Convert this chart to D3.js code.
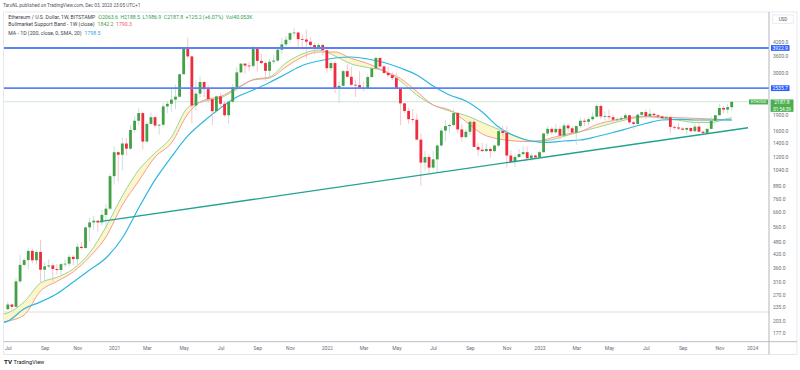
<!doctype html>
<html lang="en">
<head>
<meta charset="UTF-8">
<title>ETHUSD 1W</title>
<style>
  body { margin: 0; background: #fff; }
  svg text { font-family: Roboto, "Noto Sans", sans-serif; }
</style>
</head>
<body>
<div class="container"></div>

<script src="https://d3js.org/d3.v7.min.js"></script>

<script>
  const SVG_WIDTH = 800;
  const SVG_HEIGHT = 370;
  const PANE_LEFT = 3.5;
  const PANE_RIGHT = 769;
  const PANE_TOP = 12;
  const PANE_BOTTOM = 341.7;

  // weekly bars, first one opens Monday 2020-07-06; row = [open, high, low, close]
  const firstWeek = '2020-07-06';
  const candles2020 = [
    [230,249,228,242],[242,245,229,236],[236,322,234,311],[311,415,305,372],[372,400,365,392],
    [392,445,355,433],[433,443,378,391],[391,435,373,428],[428,488,308,353],[353,382,310,366],
    [366,395,360,370],[370,380,310,356],[356,375,335,352],[352,380,335,375],[375,395,362,377],
    [377,418,365,406],[406,415,370,396],[396,470,374,453],[453,477,440,447],[447,565,443,559],
    [559,622,480,590],[590,636,545,601],[601,603,535,590],[590,675,570,640],[640,720,550,685],
    [685,1000,675,975]
  ];
  const candles2021 = [
    [975,1350,890,1265],[1265,1280,920,1230],[1230,1480,1040,1390],[1390,1475,1220,1315],
    [1315,1700,1300,1610],[1610,1870,1560,1780],[1780,2040,1700,1935],[1935,1950,1300,1420],
    [1420,1760,1410,1720],[1720,1950,1700,1850],[1850,1880,1650,1690],[1690,1720,1530,1705],
    [1705,2150,1680,2080],[2080,2200,1930,2140],[2140,2550,1960,2240],[2240,2640,2020,2310],
    [2310,2970,2290,2950],[2950,3980,2940,3920],[3920,4380,3470,3580],[3580,3600,1730,2100],
    [2100,2760,2000,2390],[2390,2890,2290,2710],[2710,2740,2300,2510],[2510,2620,2170,2250],
    [2250,2280,1700,1975],[1975,2340,1960,2320],[2320,2410,2040,2140],[2140,2200,1860,1890],
    [1890,2200,1720,2190],[2190,2650,2150,2560],[2560,3180,2450,3010],[3010,3330,2990,3310],
    [3310,3330,2970,3240],[3240,3380,3050,3230],[3230,4020,3150,3940],[3940,3970,3030,3410],
    [3410,3680,3280,3330],[3330,3400,2740,3060],[3060,3480,2820,3380],[3380,3640,3290,3420],
    [3420,3880,3380,3850],[3850,4380,3700,4080],[4080,4460,3900,4290],[4290,4660,4150,4610],
    [4610,4870,4470,4640],[4640,4660,3980,4320],[4320,4550,3900,4300],[4300,4780,3500,4200],
    [4200,4400,3900,4050],[4050,4160,3650,3920],[3920,4140,3890,4050],[4050,4120,3620,3830]
  ];
  const candles2022 = [
    [3830,3840,3000,3150],[3150,3410,3050,3330],[3330,3410,2400,2540],[2540,2730,2160,2600],
    [2600,3100,2580,3050],[3050,3280,2850,2870],[2870,3200,2600,2630],[2630,2780,2300,2620],
    [2620,3050,2510,2550],[2550,2720,2450,2520],[2520,2950,2500,2860],[2860,3150,2850,3140],
    [3140,3580,3120,3520],[3520,3550,3180,3210],[3210,3250,2950,2990],[2990,3190,2860,2920],
    [2920,3030,2770,2830],[2830,3000,2510,2520],[2520,2550,1700,2150],[2150,2160,1940,1980],
    [1980,2050,1720,1810],[1810,2020,1740,1800],[1800,1920,1440,1450],[1450,1550,880,1130],
    [1130,1280,1040,1200],[1200,1230,1000,1070],[1070,1280,1050,1170],[1170,1380,1010,1360],
    [1360,1640,1350,1600],[1600,1790,1420,1680],[1680,1720,1550,1700],[1700,2030,1680,1935],
    [1935,1960,1550,1620],[1620,1720,1420,1490],[1490,1620,1470,1580],[1580,1790,1520,1760],
    [1760,1790,1330,1340],[1340,1400,1220,1300],[1300,1400,1270,1280],[1280,1390,1270,1310],
    [1310,1340,1190,1280],[1280,1370,1260,1360],[1360,1660,1340,1590],[1590,1680,1500,1560],
    [1560,1680,1070,1220],[1220,1290,1130,1140],[1140,1240,1080,1200],[1200,1310,1190,1240],
    [1240,1350,1220,1265],[1265,1350,1160,1185],[1185,1250,1150,1220],[1220,1230,1190,1195]
  ];
  const candles2023 = [
    [1195,1290,1190,1265],[1265,1560,1260,1550],[1550,1680,1510,1630],[1630,1660,1530,1570],
    [1570,1720,1550,1630],[1630,1680,1450,1515],[1515,1740,1500,1690],[1690,1720,1580,1640],
    [1640,1680,1550,1565],[1565,1690,1370,1680],[1680,1840,1650,1780],[1780,1830,1680,1760],
    [1760,1850,1690,1810],[1810,1950,1780,1860],[1860,2140,1850,2090],[2090,2120,1810,1865],
    [1865,1970,1780,1870],[1870,2010,1800,1850],[1850,1900,1740,1800],[1800,1850,1780,1805],
    [1805,1870,1770,1830],[1830,1940,1810,1890],[1890,1900,1720,1750],[1750,1780,1620,1720],
    [1720,1930,1710,1900],[1900,1960,1820,1955],[1955,2010,1820,1870],[1870,2030,1850,1920],
    [1920,1940,1850,1890],[1890,1900,1820,1865],[1865,1880,1800,1830],[1830,1860,1820,1850],
    [1850,1870,1550,1665],[1665,1690,1610,1655],[1655,1740,1610,1635],[1635,1660,1600,1615],
    [1615,1660,1530,1645],[1645,1660,1570,1590],[1590,1730,1570,1670],[1670,1750,1570,1580],
    [1580,1600,1520,1560],[1560,1640,1540,1630],[1630,1860,1620,1780],[1780,1900,1770,1890],
    [1890,2130,1880,2045],[2045,2090,1930,2010],[2010,2140,1930,2063.6],[2063.6,2188.5,1986.9,2187.8]
  ];

  // indicator values read every 4 weeks (week index from firstWeek)
  const maWeeks = [-1,0,4,8,12,16,20,24,28,32,36,40,44,48,52,56,60,64,68,72,76,80,84,88,92,96,100,
    104,108,112,116,120,124,128,132,136,140,144,148,152,156,160,164,168,172,176,177];
  const sma20w = [218,221,249,306,325,356,424,562,787,1043,1254,1492,2051,2199,2279,2513,2786,2863,
    3333,3675,3838,3596,3297,3174,3056,2741,2355,2112,1979,1885,1747,1619,1509,1429,1437,1504,1581,
    1654,1737,1814,1858,1834,1789,1747,1747,1824,1842.2];
  const ema21w = [200,202,216,280,311,345,406,504,713,925,1201,1398,1916,2230,2317,2541,2771,2832,
    3191,3557,3756,3756,3500,3315,3056,2817,2446,2112,2001,1766,1542,1460,1429,1418,1460,1533,1581,
    1709,1785,1844,1870,1854,1840,1828,1814,1795,1790.3];
  const sma200d = [199,202,231,249,272,309,352,401,498,690,936,1201,1509,1775,2045,2304,2486,2697,
    2958,3244,3406,3519,3557,3481,3351,3157,2926,2596,2355,2206,1958,1663,1509,1429,1406,1429,1444,
    1500,1567,1646,1728,1795,1805,1795,1795,1797,1798.5];

  const priceTicks = [4200,3600,3000,1900,1600,1400,1200,1040,880,760,660,560,480,420,360,310,270,235,203,177];
  const levels = [3922.9, 2535.7];
  const lowRay = 223;
  const trendDates = ['2020-12-10', '2023-12-25'];
  const trendPrices = [595, 1650];

  const parseDay = d3.utcParse('%Y-%m-%d');
  const start = parseDay(firstWeek);
  const ohlc = [...candles2020, ...candles2021, ...candles2022, ...candles2023];
  const bars = ohlc.map((r, i) => ({
    date: d3.utcMonday.offset(start, i), o: r[0], h: r[1], l: r[2], c: r[3]
  }));
  const last = bars[bars.length - 1];

  const svg = d3.select('.container')
    .append('svg')
    .attr('width', SVG_WIDTH)
    .attr('height', SVG_HEIGHT);

  const x = d3.scaleUtc()
    .domain([parseDay('2020-07-20'), parseDay('2023-11-27')])
    .range([16, 731.7]);
  const y = d3.scaleLog()
    .domain([177, 4200])
    .range([333.3, 41.7]);

  const UP = '#43a047', DOWN = '#ef2b40';
  const UP_WICK = '#b9d9d2', DOWN_WICK = '#f6b8be';

  svg.append('clipPath').attr('id', 'pane')
    .append('rect')
    .attr('x', PANE_LEFT).attr('y', PANE_TOP)
    .attr('width', PANE_RIGHT - PANE_LEFT).attr('height', PANE_BOTTOM - PANE_TOP);

  const pane = svg.append('g').attr('clip-path', 'url(#pane)');

  // faint support ray and current price line
  pane.append('line')
    .attr('x1', PANE_LEFT).attr('x2', PANE_RIGHT)
    .attr('y1', y(lowRay)).attr('y2', y(lowRay))
    .attr('stroke', '#dcdde2').attr('stroke-width', 1);
  pane.append('line')
    .attr('x1', PANE_LEFT).attr('x2', PANE_RIGHT)
    .attr('y1', y(last.c)).attr('y2', y(last.c))
    .attr('stroke', '#cfe9cf').attr('stroke-width', 1);

  // bull market support band + 200D MA
  const ma = maWeeks.map((w, i) => ({
    date: d3.utcMonday.offset(start, w), sma: sma20w[i], ema: ema21w[i], ma200: sma200d[i]
  }));

  pane.append('path')
    .datum(ma)
    .attr('fill', '#fbf3b8')
    .attr('fill-opacity', 0.75)
    .attr('d', d3.area()
      .x(d => x(d.date))
      .y0(d => y(d.ema))
      .y1(d => y(d.sma))
      .curve(d3.curveMonotoneX));

  const maLine = key => d3.line()
    .x(d => x(d.date))
    .y(d => y(d[key]))
    .curve(d3.curveMonotoneX);

  pane.append('path').datum(ma)
    .attr('fill', 'none').attr('stroke', '#9bd39a').attr('stroke-width', 1)
    .attr('d', maLine('sma'));
  pane.append('path').datum(ma)
    .attr('fill', 'none').attr('stroke', '#f59a95').attr('stroke-width', 1)
    .attr('d', maLine('ema'));
  pane.append('path').datum(ma)
    .attr('fill', 'none').attr('stroke', '#2cb8e3').attr('stroke-width', 1.2)
    .attr('d', maLine('ma200'));

  // candles
  const candle = pane.selectAll('g.bar')
    .data(bars)
    .enter().append('g')
    .attr('class', 'bar');

  candle.append('line')
    .attr('x1', d => x(d.date)).attr('x2', d => x(d.date))
    .attr('y1', d => y(d.h)).attr('y2', d => y(d.l))
    .attr('stroke', d => d.c >= d.o ? UP_WICK : DOWN_WICK)
    .attr('stroke-width', 0.8);

  candle.append('rect')
    .attr('x', d => x(d.date) - 1.4)
    .attr('width', 2.8)
    .attr('y', d => y(Math.max(d.o, d.c)))
    .attr('height', d => Math.max(0.8, y(Math.min(d.o, d.c)) - y(Math.max(d.o, d.c))))
    .attr('fill', d => d.c >= d.o ? UP : DOWN);

  // drawings: horizontal levels and rising trendline
  pane.selectAll('line.level')
    .data(levels)
    .enter().append('line')
    .attr('class', 'level')
    .attr('x1', PANE_LEFT).attr('x2', PANE_RIGHT)
    .attr('y1', d => y(d)).attr('y2', d => y(d))
    .attr('stroke', '#5b83f6').attr('stroke-width', 1.8);

  pane.append('path')
    .datum(trendDates.map((d, i) => [parseDay(d), trendPrices[i]]))
    .attr('fill', 'none')
    .attr('stroke', '#22a38f')
    .attr('stroke-width', 1.3)
    .attr('d', d3.line().x(d => x(d[0])).y(d => y(d[1])));

  // frame
  const frame = svg.append('g').attr('fill', 'none');
  frame.append('rect')
    .attr('x', PANE_LEFT).attr('y', PANE_TOP)
    .attr('width', 797 - PANE_LEFT).attr('height', 354.5 - PANE_TOP)
    .attr('stroke', '#e0e3eb').attr('stroke-width', 0.8);
  frame.append('line')
    .attr('x1', PANE_LEFT).attr('x2', 797)
    .attr('y1', PANE_BOTTOM).attr('y2', PANE_BOTTOM)
    .attr('stroke', '#b2b5be').attr('stroke-width', 0.9);
  frame.append('line')
    .attr('x1', PANE_RIGHT).attr('x2', PANE_RIGHT)
    .attr('y1', PANE_TOP).attr('y2', 354.5)
    .attr('stroke', '#b2b5be').attr('stroke-width', 1);

  // price axis
  const yAxis = d3.axisRight(y)
    .tickValues(priceTicks)
    .tickFormat(d3.format('.1f'))
    .tickSize(0)
    .tickPadding(4);
  const yAxisGroup = svg.append('g')
    .attr('transform', `translate(${PANE_RIGHT}, 0)`)
    .call(yAxis);
  yAxisGroup.select('.domain').remove();
  yAxisGroup.selectAll('text')
    .attr('font-size', 5)
    .attr('fill', '#6a6d78')
    .style('font-family', 'Roboto, sans-serif');

  // time axis: labels sit on the first weekly bar of every second month
  const monthTicks = d3.utcMonth.every(2)
    .range(parseDay('2020-07-01'), parseDay('2024-02-01'))
    .map(m => d3.utcMonday.ceil(m));
  const xAxis = d3.axisBottom(x)
    .tickValues(monthTicks)
    .tickSize(0)
    .tickPadding(4.5)
    .tickFormat(d => d.getUTCDate() <= 7 && d.getUTCMonth() === 0
      ? d3.utcFormat('%Y')(d) : d3.utcFormat('%b')(d));
  const xAxisGroup = svg.append('g')
    .attr('transform', `translate(0, ${PANE_BOTTOM})`)
    .call(xAxis);
  xAxisGroup.select('.domain').remove();
  xAxisGroup.selectAll('text')
    .attr('font-size', 5)
    .attr('fill', '#6a6d78')
    .style('font-family', 'Roboto, sans-serif');

  // price tags on the axis
  const tags = svg.append('g').attr('font-size', 5).attr('text-anchor', 'middle');
  levels.forEach(v => {
    tags.append('rect')
      .attr('x', 771).attr('y', y(v) - 2.9)
      .attr('width', 18.5).attr('height', 5.8)
      .attr('fill', '#2962ff');
    tags.append('text')
      .attr('x', 780.2).attr('y', y(v) + 1.8)
      .attr('fill', '#fff')
      .text(d3.format('.1f')(v));
  });
  tags.append('rect')
    .attr('x', 770.5).attr('y', y(last.c) - 2.3)
    .attr('width', 23).attr('height', 12.4)
    .attr('fill', '#4caf50');
  tags.append('text')
    .attr('x', 782).attr('y', y(last.c) + 1.8)
    .attr('fill', '#fff')
    .text(d3.format('.1f')(last.c));
  tags.append('text')
    .attr('x', 782).attr('y', y(last.c) + 9.3)
    .attr('fill', '#fff')
    .attr('font-size', 4.6)
    .text('01:54:39');
  tags.append('rect')
    .attr('x', 749).attr('y', y(last.c) - 2.3)
    .attr('width', 19).attr('height', 5)
    .attr('fill', '#4caf50');
  tags.append('text')
    .attr('x', 758.5).attr('y', y(last.c) + 1.4)
    .attr('fill', '#fff')
    .attr('font-size', 4)
    .text('ETHUSD');

  tags.append('rect')
    .attr('x', 772.7).attr('y', 15)
    .attr('width', 20.6).attr('height', 8.3)
    .attr('fill', '#fff')
    .attr('stroke', '#e0e3eb').attr('stroke-width', 0.7);
  tags.append('text')
    .attr('x', 783).attr('y', 20.8)
    .attr('fill', '#50535e')
    .attr('font-size', 4.6)
    .text('USD');

  // header and legend; values follow their titles
  const fmt = d3.format('.1f');
  svg.append('text')
    .attr('x', 3).attr('y', 7.4)
    .attr('font-size', 4.7)
    .attr('fill', '#50535e')
    .text('TaroNL published on TradingView.com, Dec 03, 2023 23:05 UTC+1');

  const legend = svg.append('g').attr('font-size', 5.2);
  function legendRow(yPos, title, values) {
    const t = legend.append('text')
      .attr('x', 8.3).attr('y', yPos)
      .attr('fill', '#3c3f4a')
      .text(title);
    let cx = 8.3 + t.node().getComputedTextLength() + 3;
    values.forEach(([txt, color]) => {
      const v = legend.append('text')
        .attr('x', cx).attr('y', yPos)
        .attr('fill', color)
        .text(txt);
      cx += v.node().getComputedTextLength() + 2.5;
    });
  }
  legendRow(18.8, 'Ethereum / U.S. Dollar, 1W, BITSTAMP', [
    [`O${fmt(last.o)}`, '#2e9e4f'], [`H${fmt(last.h)}`, '#2e9e4f'], [`L${fmt(last.l)}`, '#2e9e4f'],
    [`C${fmt(last.c)}`, '#2e9e4f'], ['+125.2 (+6.07%)', '#2e9e4f'], ['Vol40.053K', '#2e9e4f']
  ]);
  legendRow(26.3, 'Bullmarket Support Band - 1W (close)', [
    [fmt(sma20w[sma20w.length - 1]), '#43a047'], [fmt(ema21w[ema21w.length - 1]), '#f0565a']
  ]);
  legendRow(34.6, 'MA - 1D (200, close, 0, SMA, 20)', [
    [fmt(sma200d[sma200d.length - 1]), '#1fa9d9']
  ]);

  // footer logo
  const logo = svg.append('g').attr('fill', '#131722');
  logo.append('text')
    .attr('x', 4).attr('y', 364.3)
    .attr('font-size', 6.2).attr('font-weight', 'bold')
    .text('TV');
  logo.append('text')
    .attr('x', 13.5).attr('y', 364.2)
    .attr('font-size', 5.6)
    .text('TradingView');
</script>
</body>
</html>
